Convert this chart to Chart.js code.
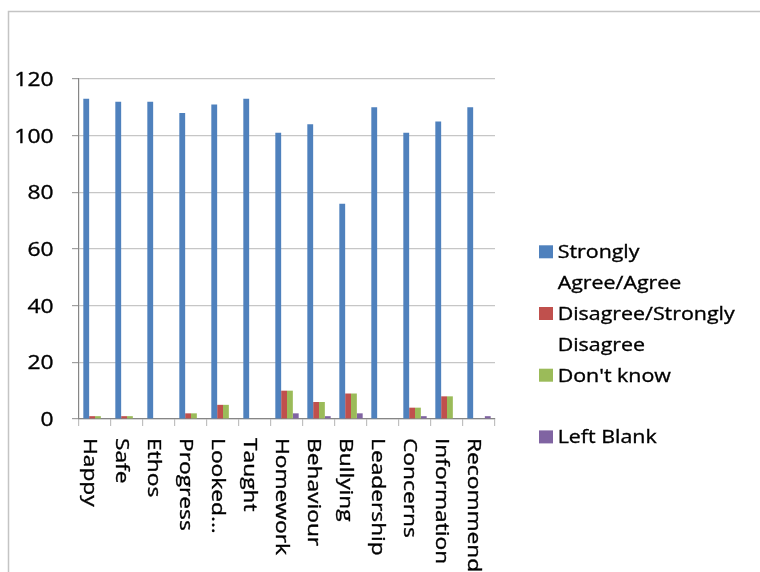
<!DOCTYPE html>
<html>
<head>
<meta charset="utf-8">
<script src="https://cdn.jsdelivr.net/npm/chart.js@4.4.0/dist/chart.umd.min.js"></script>
<style>
html, body { margin: 0; padding: 0; background: #fff; }
#wrap { position: relative; width: 760px; height: 572px; }
</style>
</head>
<body>
<div id="wrap"><canvas id="surveyChart"></canvas></div>
<script>
// Données du graphique
const categories = ['Happy', 'Safe', 'Ethos', 'Progress', 'Looked...', 'Taught', 'Homework', 'Behaviour', 'Bullying', 'Leadership', 'Concerns', 'Information', 'Recommend'];
const agree = [113, 112, 112, 108, 111, 113, 101, 104, 76, 110, 101, 105, 110];
const disagree = [1, 1, 0, 2, 5, 0, 10, 6, 9, 0, 4, 8, 0];
const dontKnow = [1, 1, 0, 2, 5, 0, 10, 6, 9, 0, 4, 8, 0];
const leftBlank = [0, 0, 0, 0, 0, 0, 2, 1, 2, 0, 1, 0, 1];
const seriesLabels = [['Strongly', 'Agree/Agree'], ['Disagree/Strongly', 'Disagree'], ["Don't know"], ['Left Blank']];
const seriesColors = ['#4f81bd', '#c0504d', '#9bbb59', '#8064a2'];
const yTicks = [0, 20, 40, 60, 80, 100, 120];

const FONT = '"Open Sans", "DejaVu Sans", sans-serif';

// Texte élargi horizontalement (comme dans l'image d'origine)
function drawWideText(ctx, text, x, y, size, scaleX, align) {
    ctx.save();
    ctx.font = size + 'px ' + FONT;
    const w = ctx.measureText(text).width * scaleX;
    const x0 = align === 'right' ? x - w : x;
    ctx.translate(x0, y);
    ctx.scale(scaleX, 1);
    ctx.textAlign = 'left';
    ctx.textBaseline = 'alphabetic';
    ctx.fillStyle = '#000';
    ctx.strokeStyle = '#000';
    ctx.lineWidth = 0.35;
    ctx.fillText(text, 0, 0);
    ctx.strokeText(text, 0, 0);
    ctx.restore();
}

// Plugin : cadre, étiquettes des axes et légende
const textPlugin = {
    id: 'textPlugin',
    beforeDraw(chart) {
        const ctx = chart.ctx;
        ctx.save();
        ctx.strokeStyle = '#c4c4c4';
        ctx.lineWidth = 1.5;
        ctx.beginPath();
        ctx.moveTo(8.5, 572);
        ctx.lineTo(8.5, 11.5);
        ctx.lineTo(760, 11.5);
        ctx.stroke();
        ctx.restore();
    },
    afterDraw(chart) {
        const ctx = chart.ctx;
        const xScale = chart.scales.x;
        const yScale = chart.scales.y;

        // Étiquettes de l'axe Y
        yTicks.forEach((v) => {
            const y = yScale.getPixelForValue(v);
            drawWideText(ctx, String(v), 53.5, y + 7, 19.5, 1.17, 'right');
        });

        // Étiquettes de l'axe X (rotation 90° dans le sens horaire)
        categories.forEach((label, i) => {
            const cx = xScale.getPixelForValue(i);
            ctx.save();
            ctx.font = '18.5px ' + FONT;
            ctx.translate(cx - 11, 438);
            ctx.rotate(Math.PI / 2);
            ctx.scale(1.23, 1);
            ctx.textAlign = 'left';
            ctx.textBaseline = 'alphabetic';
            ctx.fillStyle = '#000';
            ctx.strokeStyle = '#000';
            ctx.lineWidth = 0.35;
            ctx.fillText(label, 0, 0);
            ctx.strokeText(label, 0, 0);
            ctx.restore();
        });

        // Légende
        chart.data.datasets.forEach((ds, i) => {
            const base = 258.3 + i * 61.7;
            ctx.save();
            ctx.fillStyle = ds.backgroundColor;
            ctx.fillRect(539, base - 13, 14, 13);
            ctx.restore();
            seriesLabels[i].forEach((line, j) => {
                drawWideText(ctx, line, 557.7, base + j * 30.6, 18.6, 1.15, 'left');
            });
        });
    }
};

function GenerateBars() {
    const ctx = document.getElementById('surveyChart').getContext('2d');
    const series = [agree, disagree, dontKnow, leftBlank];

    return new Chart(ctx, {
        type: 'bar',
        data: {
            labels: categories,
            datasets: series.map((data, i) => ({
                label: seriesLabels[i].join(' '),
                data: data,
                backgroundColor: seriesColors[i],
                borderWidth: 0,
                categoryPercentage: 0.73,
                barPercentage: 1.0
            }))
        },
        options: {
            responsive: true,
            maintainAspectRatio: false,
            animation: false,
            layout: { padding: { left: 0, top: 79, right: 265, bottom: 0 } },
            plugins: {
                legend: { display: false },
                tooltip: { enabled: false }
            },
            scales: {
                x: {
                    offset: true,
                    grid: {
                        offset: true,
                        drawOnChartArea: false,
                        drawTicks: true,
                        tickLength: 7,
                        tickColor: '#c0c0c0',
                        lineWidth: 1.2
                    },
                    border: { display: true, color: '#868686', width: 1.2 },
                    ticks: { display: false, autoSkip: false },
                    afterFit(scale) { scale.height = 153; }
                },
                y: {
                    min: 0,
                    max: 120,
                    grid: {
                        color: '#c6c6c6',
                        tickLength: 7,
                        tickColor: '#a0a0a0',
                        lineWidth: 1.2
                    },
                    border: { display: true, color: '#868686', width: 1.2 },
                    ticks: { display: false, stepSize: 20 },
                    afterFit(scale) { scale.width = 79; }
                }
            }
        },
        plugins: [textPlugin]
    });
}

document.fonts.load('18px "Open Sans"').then(GenerateBars, GenerateBars);
</script>
</body>
</html>
